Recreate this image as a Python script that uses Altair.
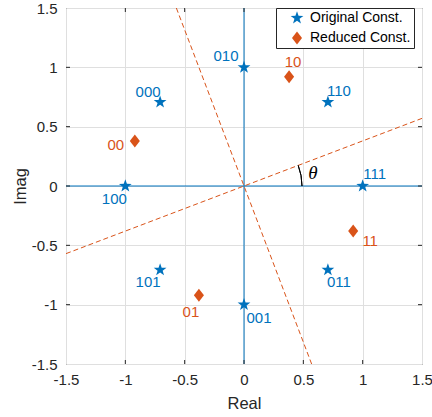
import math
import altair as alt
import pandas as pd

# ---- data ----
orig_labels = ["000", "010", "110", "111", "011", "001", "101", "100"]
orig_x = [-0.707, 0.0, 0.707, 1.0, 0.707, 0.0, -0.707, -1.0]
orig_y = [0.707, 1.0, 0.707, 0.0, -0.707, -1.0, -0.707, 0.0]

red_labels = ["00", "10", "11", "01"]
red_x = [-0.92, 0.38, 0.92, -0.38]
red_y = [0.38, 0.92, -0.38, -0.92]

series_names = ["Original Const.", "Reduced Const."]

# decision boundaries (dashed) end points
bnd_x1 = [-1.5, -0.57]
bnd_y1 = [-0.57, 1.5]
bnd_x2 = [1.5, 0.57]
bnd_y2 = [0.57, -1.5]

# real / imag axes through origin
ax_x1 = [-1.5, 0.0]
ax_y1 = [0.0, -1.5]
ax_x2 = [1.5, 0.0]
ax_y2 = [0.0, 1.5]

tick_vals = [-1.5, -1.0, -0.5, 0.0, 0.5, 1.0, 1.5]
inner_ticks = [-1.0, -0.5, 0.0, 0.5, 1.0]

theta_text_x = [0.58]
theta_text_y = [0.11]
theta_angle = 0.363  # rad, angle of the dashed boundary

# ---- styles ----
BLUE = "#0072BD"
ORANGE = "#D95319"
DARK = "#262626"
FONT = "Liberation Sans"
W = 356
H = 356

label_offsets = {
    "000": (-12, -10), "010": (-18, -11), "110": (11, -11), "111": (12, -12),
    "011": (11, 12), "001": (15, 13), "101": (-12, 12), "100": (-11, 13),
    "00": (-19, 4), "10": (4, -15), "11": (17, 10), "01": (-8, 17),
}

# marker glyphs (unit box)
_star = []
for k in range(10):
    r = 1.0 if k % 2 == 0 else 0.4
    a = math.radians(-90 + 36 * k)
    _star.append(f"{r * math.cos(a):.3f},{r * math.sin(a):.3f}")
STAR = "M" + "L".join(_star) + "Z"
DIAMOND = "M0,-0.97L0.75,0L0,0.97L-0.75,0Z"

pts = pd.DataFrame({
    "x": orig_x + red_x,
    "y": orig_y + red_y,
    "label": orig_labels + red_labels,
    "series": [series_names[0]] * len(orig_x) + [series_names[1]] * len(red_x),
})
bnd = pd.DataFrame({"x": bnd_x1, "y": bnd_y1, "x2": bnd_x2, "y2": bnd_y2})
axl = pd.DataFrame({"x": ax_x1, "y": ax_y1, "x2": ax_x2, "y2": ax_y2})
tk = pd.DataFrame({"v": inner_ticks})
th = pd.DataFrame({"x": theta_text_x, "y": theta_text_y, "t": ["θ"]})

xs = alt.Scale(domain=[-1.5, 1.5], nice=False, zero=False)
ys = alt.Scale(domain=[-1.5, 1.5], nice=False, zero=False)

LABEL_EXPR = "datum.value < 0 ? '-' + format(-datum.value, '~g') : format(datum.value, '~g')"

xaxis = alt.Axis(
    title="Real", values=tick_vals, labelExpr=LABEL_EXPR, ticks=False, domain=False,
    grid=True, gridColor="#dfdfdf", labelFont=FONT, labelFontSize=15,
    labelColor=DARK, labelPadding=8, titleFont=FONT, titleFontSize=16.5,
    titleFontWeight="normal", titleColor=DARK, titleX=W / 2, titleY=39,
    titleBaseline="middle", labelFlush=False,
)
yaxis = alt.Axis(
    title="Imag", values=tick_vals, labelExpr=LABEL_EXPR, ticks=False, domain=False,
    grid=True, gridColor="#dfdfdf", labelFont=FONT, labelFontSize=15,
    labelColor=DARK, labelPadding=9, titleFont=FONT, titleFontSize=16.5,
    titleFontWeight="normal", titleColor=DARK, titleX=-46, titleY=H / 2,
    titleBaseline="middle", titleAngle=-90, labelFlush=False,
)


def X(f="x"):
    return alt.X(f + ":Q", scale=xs, axis=xaxis)


def Y(f="y"):
    return alt.Y(f + ":Q", scale=ys, axis=yaxis)


axes_lines = alt.Chart(axl).mark_rule(color=BLUE, strokeWidth=1).encode(
    x=X(), y=Y(), x2="x2:Q", y2="y2:Q"
)

boundaries = alt.Chart(bnd).mark_rule(
    color=ORANGE, strokeWidth=1, strokeDash=[5, 3]
).encode(x=X(), y=Y(), x2="x2:Q", y2="y2:Q")

arc = alt.Chart(th).mark_arc(
    radius=58, radius2=58, theta=math.pi / 2 - theta_angle,
    theta2=math.pi / 2, filled=False, strokeWidth=1,
).encode(stroke=alt.value("#000000"))

theta_txt = alt.Chart(th).mark_text(
    font="Liberation Serif", fontStyle="italic", fontSize=19, color="#000000",
).encode(x=X(), y=Y(), text="t:N")

leg = alt.Legend(
    title=None, orient="none", legendX=210, legendY=0,
    strokeColor=DARK, fillColor="white", padding=3,
    symbolOffset=11, labelOffset=6, rowPadding=6, symbolSize=180,
    labelFont=FONT, labelFontSize=14, labelColor="#000000",
    symbolStrokeWidth=0, labelLimit=300,
)
points = alt.Chart(pts).mark_point(filled=True, size=180, opacity=1).encode(
    x=X(), y=Y(),
    color=alt.Color("series:N", scale=alt.Scale(domain=series_names, range=[BLUE, ORANGE]),
                    legend=leg),
    shape=alt.Shape("series:N", scale=alt.Scale(domain=series_names, range=[STAR, DIAMOND]),
                    legend=leg),
)

text_layers = []
for lab in orig_labels + red_labels:
    dx, dy = label_offsets[lab]
    col = BLUE if len(lab) == 3 else ORANGE
    text_layers.append(
        alt.Chart(pts).transform_filter(alt.datum.label == lab).mark_text(
            dx=dx, dy=dy, font=FONT, fontSize=15, color=col, baseline="middle",
            align="center",
        ).encode(x=X(), y=Y(), text="label:N")
    )

tick_color = DARK
t_bottom = alt.Chart(tk).mark_rule(color=tick_color).encode(
    x=alt.X("v:Q", scale=xs, axis=xaxis), y=alt.value(H), y2=alt.value(H - 4))
t_top = alt.Chart(tk).mark_rule(color=tick_color).encode(
    x=alt.X("v:Q", scale=xs, axis=xaxis), y=alt.value(0), y2=alt.value(4))
t_left = alt.Chart(tk).mark_rule(color=tick_color).encode(
    y=alt.Y("v:Q", scale=ys, axis=yaxis), x=alt.value(0), x2=alt.value(4))
t_right = alt.Chart(tk).mark_rule(color=tick_color).encode(
    y=alt.Y("v:Q", scale=ys, axis=yaxis), x=alt.value(W), x2=alt.value(W - 4))

chart = alt.layer(
    axes_lines, boundaries, arc, theta_txt, t_bottom, t_top, t_left, t_right,
    *text_layers, points,
).properties(
    width=W, height=H,
    autosize=alt.AutoSizeParams(type="none"),
    padding={"left": 66, "top": 8, "right": 10, "bottom": 53},
    background="white",
).configure_view(stroke=DARK, strokeWidth=1)

chart.save("out.html", embed_options={"renderer": "svg", "actions": False})
